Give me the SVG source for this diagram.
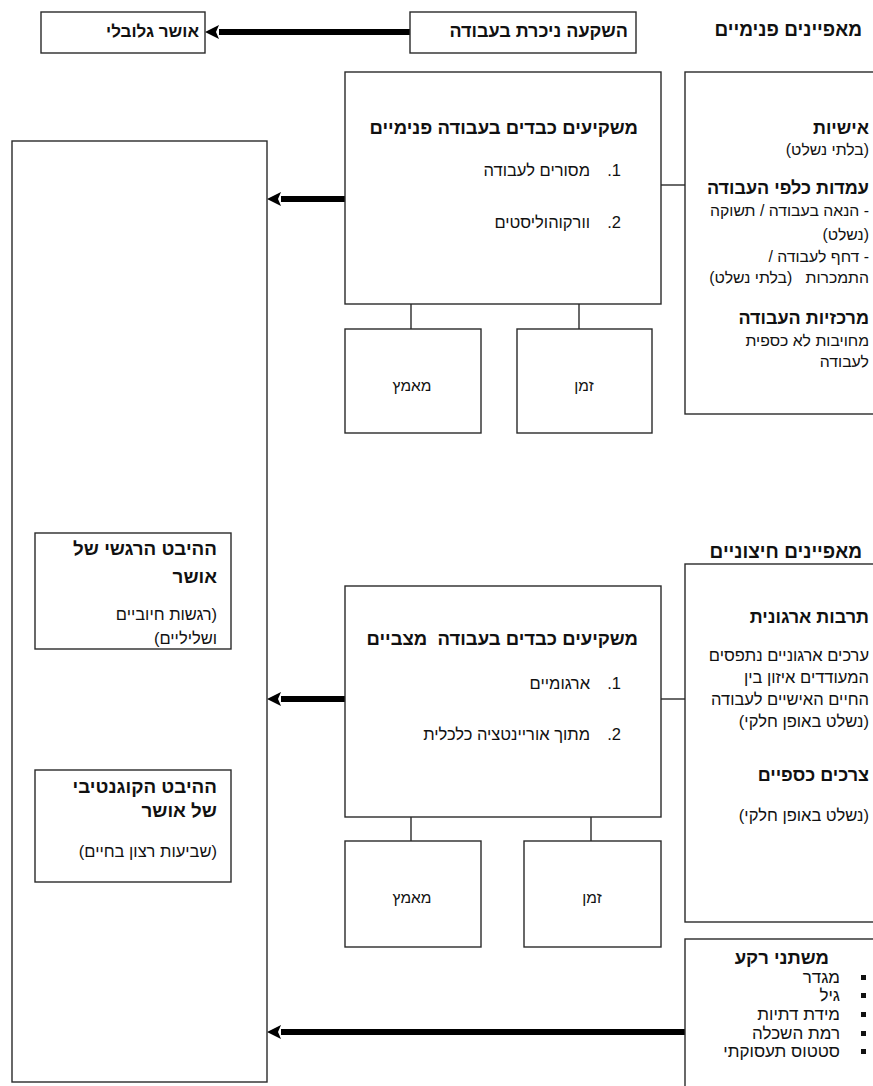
<svg xmlns="http://www.w3.org/2000/svg" width="873" height="1086" viewBox="0 0 873 1086">
<style>
.box{fill:#fff;stroke:#2a2a2a;stroke-width:1.4}
.thin{stroke:#2a2a2a;stroke-width:1.4;fill:none}
.thick{stroke:#000;stroke-width:6;fill:none}
text{font-family:"Liberation Sans","DejaVu Sans",sans-serif;fill:#111;direction:rtl;text-anchor:start}
.pre{white-space:pre}
.b{font-weight:bold;font-size:17px}
.bb{font-weight:bold;font-size:18px}
.bh{font-weight:bold;font-size:18px}
.bm{font-weight:bold;font-size:18.5px}
.bl{font-weight:bold;font-size:18.8px}
.bt{font-weight:bold;font-size:19px}
.t{font-size:16.5px}
.tp{font-size:15.8px}
.tb{font-size:15.5px}
.ti{font-size:17px}
.c{text-anchor:middle}
</style>
<defs>
<marker id="ah" viewBox="0 0 14 14" markerWidth="14" markerHeight="14" refX="0" refY="7" orient="auto" markerUnits="userSpaceOnUse">
<path d="M0,0 L14,7 L0,14 L3,7 z" fill="#000"/>
</marker>
</defs>

<g id="connectors">
<line class="thick" x1="410" y1="32" x2="219" y2="32" marker-end="url(#ah)"/>
<line class="thick" x1="345" y1="199" x2="281" y2="199" marker-end="url(#ah)"/>
<line class="thick" x1="345" y1="699" x2="281" y2="699" marker-end="url(#ah)"/>
<line class="thick" x1="685" y1="1032" x2="281" y2="1032" marker-end="url(#ah)"/>
<line class="thin" x1="661" y1="185" x2="685" y2="185"/>
<line class="thin" x1="661" y1="699" x2="685" y2="699"/>
<line class="thin" x1="411" y1="304" x2="411" y2="329"/>
<line class="thin" x1="579" y1="304" x2="579" y2="329"/>
<line class="thin" x1="411" y1="817" x2="411" y2="841"/>
<line class="thin" x1="591" y1="817" x2="591" y2="841"/>
</g>

<g id="global-happiness">
<rect class="box" x="41" y="12" width="164" height="41"/>
<text class="b" x="199" y="37">אושר גלובלי</text>
</g>

<g id="work-investment">
<rect class="box" x="410" y="12" width="226" height="41"/>
<text class="bb" x="628" y="37">השקעה ניכרת בעבודה</text>
</g>

<g id="internal-title">
<text class="bt" x="862" y="36">מאפיינים פנימיים</text>
</g>

<g id="internal-panel">
<rect class="box" x="685" y="72" width="200" height="342"/>
<text class="bh" x="869" y="134">אישיות</text>
<text class="tp" x="869" y="155">(בלתי נשלט)</text>
<text class="bh" x="869" y="194">עמדות כלפי העבודה</text>
<text class="tp" x="869" y="216">- הנאה בעבודה / תשוקה</text>
<text class="tp" x="869" y="240">(נשלט)</text>
<text class="tp" x="869" y="262">- דחף לעבודה /</text>
<text class="tp pre" x="869" y="283">התמכרות   (בלתי נשלט)</text>
<text class="bh" x="869" y="324">מרכזיות העבודה</text>
<text class="tp" x="869" y="346">מחויבות לא כספית</text>
<text class="tp" x="869" y="367">לעבודה</text>
</g>

<g id="internal-investors">
<rect class="box" x="345" y="72" width="316" height="232"/>
<text class="bm" x="638" y="134">משקיעים כבדים בעבודה פנימיים</text>
<text class="t" x="621" y="176">1.</text>
<text class="t" x="590" y="176">מסורים לעבודה</text>
<text class="t" x="621" y="228">2.</text>
<text class="t" x="590" y="228">וורקוהוליסטים</text>
</g>

<g id="effort-1">
<rect class="box" x="345" y="329" width="136" height="104"/>
<text class="tb c" x="412" y="391">מאמץ</text>
</g>

<g id="time-1">
<rect class="box" x="517" y="329" width="135" height="104"/>
<text class="tb c" x="584" y="391">זמן</text>
</g>

<g id="happiness">
<rect class="box" x="12" y="141" width="255" height="941"/>
</g>

<g id="emotional">
<rect class="box" x="35" y="533" width="196" height="116"/>
<text class="bl" x="217" y="555">ההיבט הרגשי של</text>
<text class="bl" x="217" y="583">אושר</text>
<text class="t" x="217" y="620">(רגשות חיוביים</text>
<text class="t" x="217" y="644">ושליליים)</text>
</g>

<g id="cognitive">
<rect class="box" x="35" y="770" width="196" height="112"/>
<text class="bl" x="217" y="793">ההיבט הקוגנטיבי</text>
<text class="bl" x="217" y="817">של אושר</text>
<text class="t" x="217" y="857">(שביעות רצון בחיים)</text>
</g>

<g id="external-title">
<text class="bt" x="862" y="558">מאפיינים חיצוניים</text>
</g>

<g id="external-panel">
<rect class="box" x="685" y="564" width="200" height="358"/>
<text class="bh" x="869" y="623">תרבות ארגונית</text>
<text class="t" x="869" y="661">ערכים ארגוניים נתפסים</text>
<text class="t" x="869" y="683">המעודדים איזון בין</text>
<text class="t" x="869" y="705">החיים האישיים לעבודה</text>
<text class="t" x="869" y="727">(נשלט באופן חלקי)</text>
<text class="bh" x="869" y="781">צרכים כספיים</text>
<text class="t" x="869" y="821">(נשלט באופן חלקי)</text>
</g>

<g id="situational-investors">
<rect class="box" x="345" y="586" width="316" height="231"/>
<text class="bm pre" x="638" y="645">משקיעים כבדים בעבודה  מצביים</text>
<text class="t" x="621" y="689">1.</text>
<text class="t" x="590" y="689">ארגומיים</text>
<text class="t" x="621" y="740">2.</text>
<text class="t" x="590" y="740">מתוך אוריינטציה כלכלית</text>
</g>

<g id="effort-2">
<rect class="box" x="345" y="841" width="136" height="106"/>
<text class="tb c" x="412" y="903">מאמץ</text>
</g>

<g id="time-2">
<rect class="box" x="524" y="841" width="137" height="106"/>
<text class="tb c" x="592" y="903">זמן</text>
</g>

<g id="background">
<rect class="box" x="685" y="939" width="200" height="160"/>
<text class="bm" x="829" y="964">משתני רקע</text>
<rect x="861" y="975" width="5" height="5" fill="#111"/>
<rect x="861" y="993" width="5" height="5" fill="#111"/>
<rect x="861" y="1012" width="5" height="5" fill="#111"/>
<rect x="861" y="1031" width="5" height="5" fill="#111"/>
<rect x="861" y="1049" width="5" height="5" fill="#111"/>
<text class="ti" x="840" y="983">מגדר</text>
<text class="ti" x="840" y="1001">גיל</text>
<text class="ti" x="840" y="1020">מידת דתיות</text>
<text class="ti" x="840" y="1039">רמת השכלה</text>
<text class="ti" x="840" y="1057">סטטוס תעסוקתי</text>
</g>
</svg>
